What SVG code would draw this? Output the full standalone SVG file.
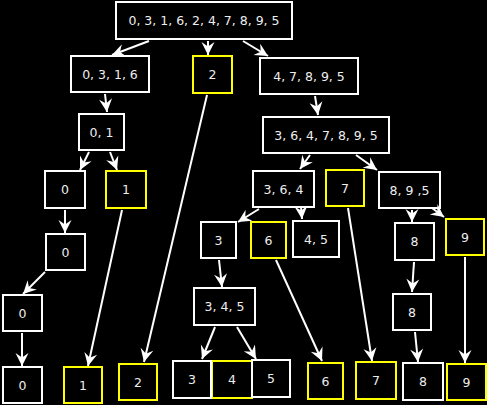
<svg xmlns="http://www.w3.org/2000/svg" width="487" height="405" viewBox="0 0 487 405">
<defs>
<marker id="ah" markerUnits="userSpaceOnUse" markerWidth="20" markerHeight="20" refX="0" refY="0" orient="auto" overflow="visible">
<path d="M0,0 L-13,-6.5 L-8.5,0 L-13,6.5 Z" fill="#fff"/>
</marker>
<style>
rect.w{fill:#000;stroke:#fff;stroke-width:2}
rect.y{fill:#000;stroke:#ff0;stroke-width:2}
text{font-family:"DejaVu Sans",sans-serif;font-size:12.5px;fill:#eee;text-anchor:middle}
#edges line{stroke:#fff;stroke-width:2;marker-end:url(#ah)}
</style>
</defs>
<rect x="0" y="0" width="487" height="405" fill="#000"/>
<g id="n_root"><rect class="w" x="116" y="2" width="176" height="37"/><text x="204" y="25">0, 3, 1, 6, 2, 4, 7, 8, 9, 5</text></g>
<g id="n_0316"><rect class="w" x="71" y="56" width="78" height="36"/><text x="110" y="78.5">0, 3, 1, 6</text></g>
<g id="n_2"><rect class="y" x="193" y="56" width="39" height="37"/><text x="212.5" y="79">2</text></g>
<g id="n_47895"><rect class="w" x="260" y="58" width="98" height="36"/><text x="309" y="80.5">4, 7, 8, 9, 5</text></g>
<g id="n_3647895"><rect class="w" x="263" y="117" width="126" height="36"/><text x="326" y="139.5">3, 6, 4, 7, 8, 9, 5</text></g>
<g id="n_01"><rect class="w" x="79" y="114" width="45" height="36"/><text x="101.5" y="136.5">0, 1</text></g>
<g id="n_0a"><rect class="w" x="45" y="171" width="40" height="37"/><text x="65" y="194">0</text></g>
<g id="n_1a"><rect class="y" x="106" y="171" width="40" height="37"/><text x="126" y="194">1</text></g>
<g id="n_364"><rect class="w" x="253" y="171" width="61" height="36"/><text x="283.5" y="193.5">3, 6, 4</text></g>
<g id="n_7a"><rect class="y" x="326" y="170" width="38" height="36"/><text x="345" y="192.5">7</text></g>
<g id="n_895"><rect class="w" x="379" y="172" width="61" height="36"/><text x="409.5" y="194.5">8, 9 ,5</text></g>
<g id="n_3a"><rect class="w" x="201" y="222" width="35" height="36"/><text x="218.5" y="244.5">3</text></g>
<g id="n_6a"><rect class="y" x="251" y="222" width="35" height="36"/><text x="268.5" y="244.5">6</text></g>
<g id="n_45"><rect class="w" x="293" y="221" width="46" height="36"/><text x="316" y="243.5">4, 5</text></g>
<g id="n_8a"><rect class="w" x="395" y="223" width="39" height="37"/><text x="414.5" y="246">8</text></g>
<g id="n_9a"><rect class="y" x="446" y="219" width="38" height="36"/><text x="465" y="241.5">9</text></g>
<g id="n_0b"><rect class="w" x="46" y="234" width="39" height="36"/><text x="65.5" y="256.5">0</text></g>
<g id="n_0c"><rect class="w" x="3" y="295" width="39" height="36"/><text x="22.5" y="317.5">0</text></g>
<g id="n_345"><rect class="w" x="194" y="288" width="61" height="37"/><text x="224.5" y="311">3, 4, 5</text></g>
<g id="n_8b"><rect class="w" x="393" y="294" width="38" height="36"/><text x="412" y="316.5">8</text></g>
<g id="n_0d"><rect class="w" x="3" y="367" width="39" height="36"/><text x="22.5" y="389.5">0</text></g>
<g id="n_1b"><rect class="y" x="64" y="367" width="38" height="36"/><text x="83" y="389.5">1</text></g>
<g id="n_2b"><rect class="y" x="119" y="364" width="38" height="36"/><text x="138" y="386.5">2</text></g>
<g id="n_4b"><rect class="y" x="212" y="361" width="40" height="37"/><text x="232" y="384">4</text></g>
<g id="n_3b"><rect class="w" x="173" y="361" width="38" height="37"/><text x="192" y="384">3</text></g>
<g id="n_5b"><rect class="w" x="252" y="360" width="38" height="37"/><text x="271" y="383">5</text></g>
<g id="n_6b"><rect class="y" x="308" y="363" width="35" height="36"/><text x="325.5" y="385.5">6</text></g>
<g id="n_7b"><rect class="y" x="356" y="362" width="40" height="37"/><text x="376" y="385">7</text></g>
<g id="n_8c"><rect class="w" x="403" y="363" width="40" height="37"/><text x="423" y="386">8</text></g>
<g id="n_9b"><rect class="y" x="447" y="364" width="39" height="36"/><text x="466.5" y="386.5">9</text></g>
<g id="edges">
<line x1="149" y1="41" x2="112" y2="55"/>
<line x1="208" y1="41" x2="208" y2="55"/>
<line x1="243" y1="41" x2="268" y2="56"/>
<line x1="105" y1="94" x2="107" y2="112"/>
<line x1="89" y1="152" x2="80" y2="170"/>
<line x1="110" y1="152" x2="117" y2="170"/>
<line x1="65" y1="210" x2="65" y2="233"/>
<line x1="45" y1="272" x2="23" y2="294"/>
<line x1="22" y1="333" x2="22" y2="366"/>
<line x1="122" y1="210" x2="88" y2="366"/>
<line x1="207" y1="95" x2="144" y2="362"/>
<line x1="315" y1="96" x2="318" y2="115"/>
<line x1="310" y1="155" x2="300" y2="169"/>
<line x1="356" y1="155" x2="377" y2="170"/>
<line x1="259" y1="209" x2="238" y2="222"/>
<line x1="301" y1="207" x2="302" y2="219"/>
<line x1="348" y1="208" x2="372" y2="361"/>
<line x1="412" y1="210" x2="412" y2="222"/>
<line x1="432" y1="208" x2="444" y2="217"/>
<line x1="219" y1="260" x2="222" y2="287"/>
<line x1="276" y1="260" x2="322" y2="361"/>
<line x1="215" y1="327" x2="202" y2="359"/>
<line x1="237" y1="327" x2="256" y2="359"/>
<line x1="414" y1="262" x2="412" y2="292"/>
<line x1="415" y1="332" x2="418" y2="362"/>
<line x1="465" y1="257" x2="465" y2="363"/>
</g>
</svg>
